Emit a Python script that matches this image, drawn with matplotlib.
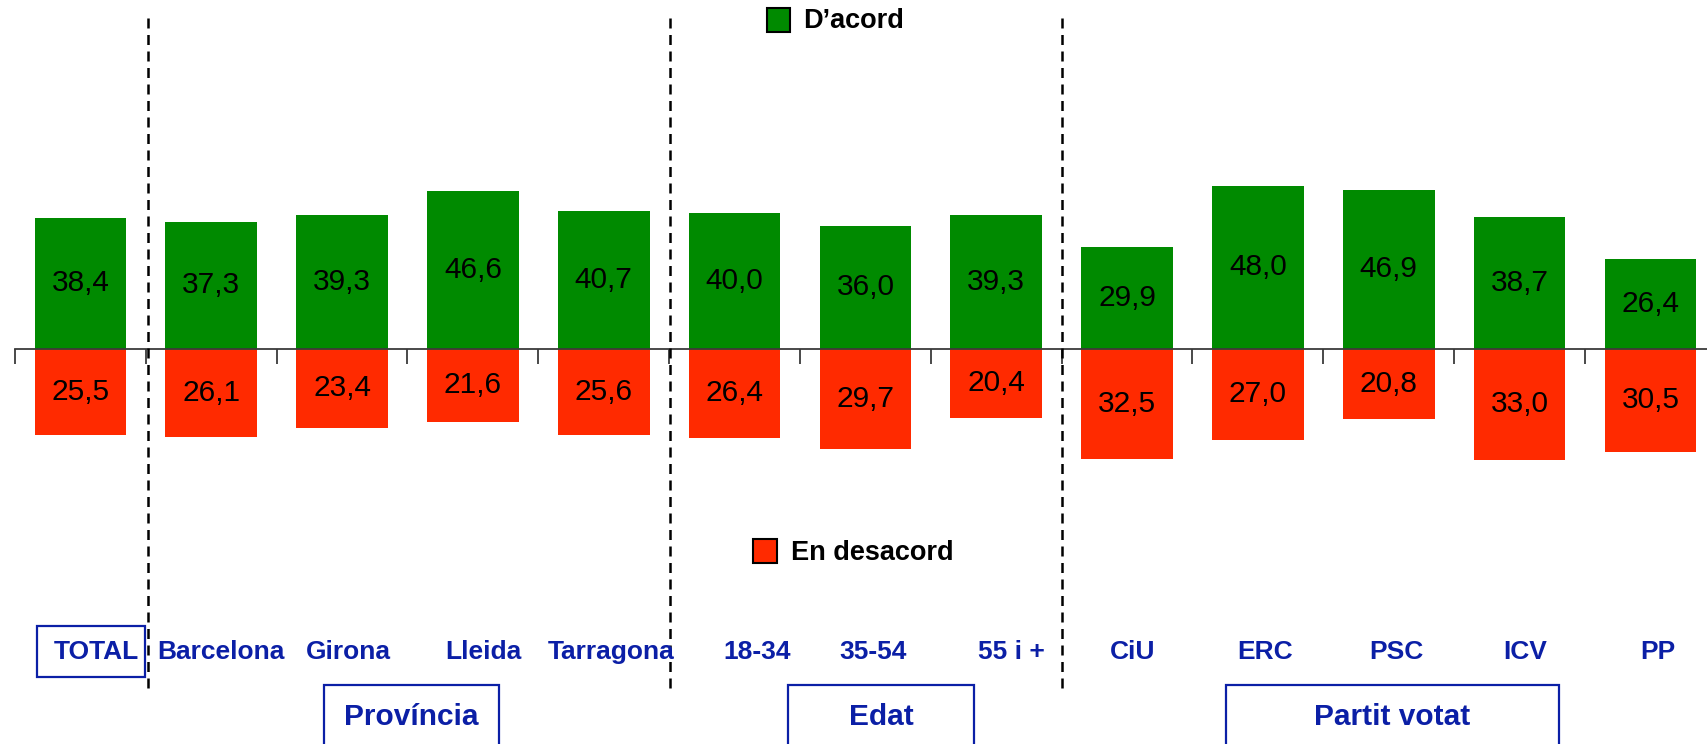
import matplotlib
matplotlib.use('Agg')
import matplotlib.pyplot as plt
from matplotlib.patches import Rectangle
import numpy as np

# data
categories = ['TOTAL', 'Barcelona', 'Girona', 'Lleida', 'Tarragona',
              '18-34', '35-54', '55 i +',
              'CiU', 'ERC', 'PSC', 'ICV', 'PP']
acord = [38.4, 37.3, 39.3, 46.6, 40.7, 40.0, 36.0, 39.3, 29.9, 48.0, 46.9, 38.7, 26.4]
desacord = [25.5, 26.1, 23.4, 21.6, 25.6, 26.4, 29.7, 20.4, 32.5, 27.0, 20.8, 33.0, 30.5]
groups = ['Província', 'Edat', 'Partit votat']

plt.rcParams['font.family'] = ['Liberation Sans', 'DejaVu Sans']

W, H = 1708, 744
green = '#008A00'
red = '#FF2A00'
blue = '#0B1FA6'

# pixel layout of the original slide
step = 130.83       # px per category
ppu = 3.39          # px per percentage point
y0 = 348.5          # px of zero line from top
x0 = 15             # px of first category boundary

def fx(px):
    return px / W

def fy(py):
    return 1 - py / H

fig = plt.figure(figsize=(W / 100, H / 100), dpi=100)
ax = fig.add_axes([0, 0, 1, 1])
ax.set_xlim(-0.5 - x0 / step, -0.5 + (W - x0) / step)
ax.set_ylim(-(H - y0) / ppu, y0 / ppu)
ax.axis('off')

x = np.arange(len(categories))
ax.bar(x, acord, 0.70, color=green, linewidth=0, zorder=2)
ax.bar(x, [-v for v in desacord], 0.70, color=red, linewidth=0, zorder=2)

for i in range(len(categories)):
    ax.text(x[i], acord[i] / 2, f'{acord[i]:.1f}'.replace('.', ','),
            ha='center', va='center', fontsize=21.5, color='black', zorder=3)
    ax.text(x[i], -desacord[i] / 2, f'{desacord[i]:.1f}'.replace('.', ','),
            ha='center', va='center', fontsize=21.5, color='black', zorder=3)

# zero line and ticks
xmax = -0.5 + (W - x0) / step
ax.plot([-0.5, xmax], [0, 0], color='#3a3a3a', lw=1.3, zorder=3)
ax.vlines(np.arange(len(categories)) - 0.5, -15 / ppu, 0, color='#3a3a3a', lw=1.3, zorder=3)

# dashed separators
for b in [0.52, 4.51, 7.5]:
    ax.axvline(b, ymin=fy(688), ymax=fy(18), color='black', lw=1.8,
               linestyle=(0, (4.0, 2.6)), zorder=4)

# category labels (text boxes are slightly off-centre in the original)
label_shift = [16, 10, 6, 10, 7, 23, 8, 15, 6, 7, 8, 6, 8]
for i, lab in enumerate(categories):
    px = x0 + (i + 0.5) * step + label_shift[i]
    fig.text(fx(px), fy(652), lab, ha='center', va='center', fontsize=19,
             fontweight='bold', color=blue)

# TOTAL box
fig.patches.append(Rectangle((fx(37), fy(677)), fx(145) - fx(37), fy(626) - fy(677),
                             transform=fig.transFigure, fill=False, ec=blue, lw=1.6))

# group boxes
box_spans = [(324, 499), (788, 974), (1226, 1559)]
for (l, r), g in zip(box_spans, groups):
    fig.patches.append(Rectangle((fx(l), fy(760)), fx(r) - fx(l), fy(685) - fy(760),
                                 transform=fig.transFigure, fill=False, ec=blue, lw=1.6))
    fig.text(fx((l + r) / 2), fy(717), g, ha='center', va='center', fontsize=21.5,
             fontweight='bold', color=blue)

# legend entries
fig.patches.append(Rectangle((fx(767), fy(32)), fx(23), 24 / H, transform=fig.transFigure,
                             fc=green, ec='black', lw=1.5))
fig.text(fx(803), fy(21), 'D\u2019acord', ha='left', va='center', fontsize=19.5,
         fontweight='bold', color='black')
fig.patches.append(Rectangle((fx(753), fy(563)), fx(24), 24 / H, transform=fig.transFigure,
                             fc=red, ec='black', lw=1.5))
fig.text(fx(791), fy(553), 'En desacord', ha='left', va='center', fontsize=19.5,
         fontweight='bold', color='black')

fig.savefig('out.png', dpi=100)
